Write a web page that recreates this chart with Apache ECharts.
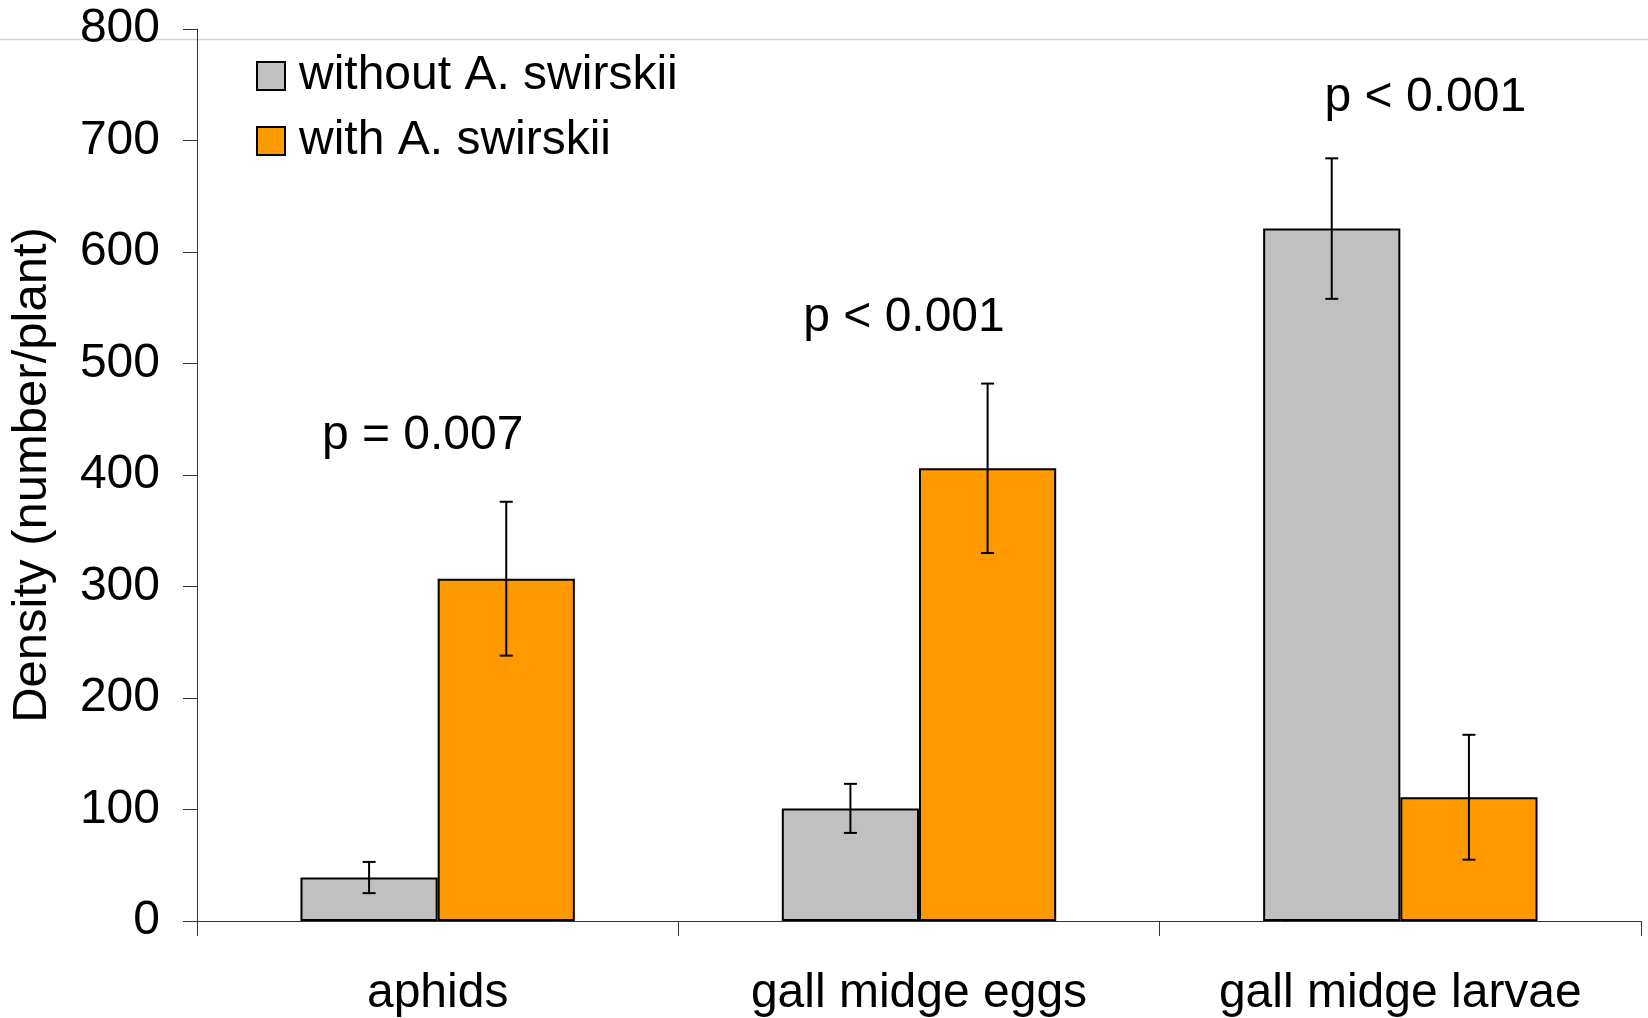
<!DOCTYPE html>
<html>
<head>
<meta charset="utf-8">
<script src="https://cdn.jsdelivr.net/npm/echarts@6/dist/echarts.min.js"></script>
<style>
html,body{margin:0;padding:0;background:#fff;}
#chart{width:1648px;height:1018px;}
</style>
</head>
<body>
<div id="chart"></div>
<script>
// ---- data ----
const categories = ['aphids', 'gall midge eggs', 'gall midge larvae'];
const seriesNames = ['without A. swirskii', 'with A. swirskii'];
const withoutValues = [39, 101, 621];
const withoutErrors = [14, 22, 63];
const withValues = [307, 406, 111];
const withErrors = [69, 76, 56];
const pLabels = ['p = 0.007', 'p < 0.001', 'p < 0.001'];
const pLabelLevels = [435, 541, 738];
const yTicks = [0, 100, 200, 300, 400, 500, 600, 700, 800];

// ---- layout / style ----
const FONT = "'Liberation Sans', Arial, sans-serif";
const FS = 48;
const CAT_GAP = 0.43;
const pOffsets = [-15, -15, 25];

const errData = [];
withoutValues.forEach((v, i) => errData.push([i, v, withoutErrors[i], -1]));
withValues.forEach((v, i) => errData.push([i, v, withErrors[i], 1]));

const chart = echarts.init(document.getElementById('chart'), null, {renderer: 'canvas'});
chart.setOption({
  animation: false,
  backgroundColor: '#ffffff',
  textStyle: {fontFamily: FONT},
  grid: {left: 197, right: 7, top: 29, bottom: 95, containLabel: false},
  legend: {
    orient: 'vertical',
    left: 256, top: 52, padding: 0,
    itemWidth: 28, itemHeight: 28, itemGap: 17,
    icon: 'rect',
    itemStyle: {borderColor: '#000', borderWidth: 2},
    textStyle: {fontSize: FS, color: '#000', fontFamily: FONT, lineHeight: 48, padding: [0, 0, 0, 9]},
    data: seriesNames
  },
  xAxis: {
    type: 'category',
    data: categories,
    axisLine: {lineStyle: {color: '#333', width: 1}},
    axisTick: {show: true, length: 15, lineStyle: {color: '#333', width: 1}},
    axisLabel: {fontSize: FS, color: '#000', margin: 49, fontFamily: FONT},
    splitLine: {show: false}
  },
  yAxis: {
    type: 'value',
    min: yTicks[0], max: yTicks[yTicks.length - 1], interval: 100,
    name: 'Density (number/plant)',
    nameLocation: 'middle',
    nameGap: 140,
    nameTextStyle: {fontSize: 49, color: '#000', fontFamily: FONT},
    axisLine: {show: true, lineStyle: {color: '#333', width: 1}},
    axisTick: {show: true, length: 14, lineStyle: {color: '#333', width: 1}},
    axisLabel: {fontSize: FS, color: '#000', margin: 37, fontFamily: FONT},
    splitLine: {show: false}
  },
  series: [
    {
      name: seriesNames[0], type: 'bar', data: withoutValues,
      barGap: '0%', barCategoryGap: (CAT_GAP * 100) + '%',
      itemStyle: {color: '#c0c0c0', borderColor: '#000', borderWidth: 2},
      z: 2
    },
    {
      name: seriesNames[1], type: 'bar', data: withValues,
      barGap: '0%', barCategoryGap: (CAT_GAP * 100) + '%',
      itemStyle: {color: '#ff9900', borderColor: '#000', borderWidth: 2},
      z: 2
    },
    {
      type: 'custom',
      data: errData,
      z: 5,
      silent: true,
      renderItem: function (params, api) {
        const cat = api.value(0), val = api.value(1), err = api.value(2), side = api.value(3);
        const c = api.coord([cat, val]);
        const catW = api.size([1, 0])[0];
        const barW = catW * (1 - CAT_GAP) / 2;
        const x = c[0] + side * barW / 2;
        const top = api.coord([cat, val + err])[1];
        const bot = api.coord([cat, val - err])[1];
        const h = 6.5;
        const st = {stroke: '#000', lineWidth: 2};
        return {
          type: 'group',
          children: [
            {type: 'line', shape: {x1: x, y1: top, x2: x, y2: bot}, style: st},
            {type: 'line', shape: {x1: x - h, y1: top, x2: x + h, y2: top}, style: st},
            {type: 'line', shape: {x1: x - h, y1: bot, x2: x + h, y2: bot}, style: st}
          ]
        };
      }
    },
    {
      type: 'scatter',
      symbolSize: 0,
      silent: true,
      z: 6,
      data: pLabels.map((t, i) => ({
        value: [i, pLabelLevels[i]],
        label: {offset: [pOffsets[i], 0], color: '#000'}
      })),
      label: {
        show: true, position: 'inside',
        formatter: p => pLabels[p.dataIndex],
        fontSize: FS, color: '#000', fontFamily: FONT,
        textBorderWidth: 0, opacity: 1
      },
      itemStyle: {opacity: 1}
    }
  ],
  graphic: [
    {type: 'line', shape: {x1: 0, y1: 39.5, x2: 1648, y2: 39.5}, style: {stroke: '#c8d8dc', lineWidth: 1.5}, z: 0, silent: true}
  ]
});
</script>
</body>
</html>
